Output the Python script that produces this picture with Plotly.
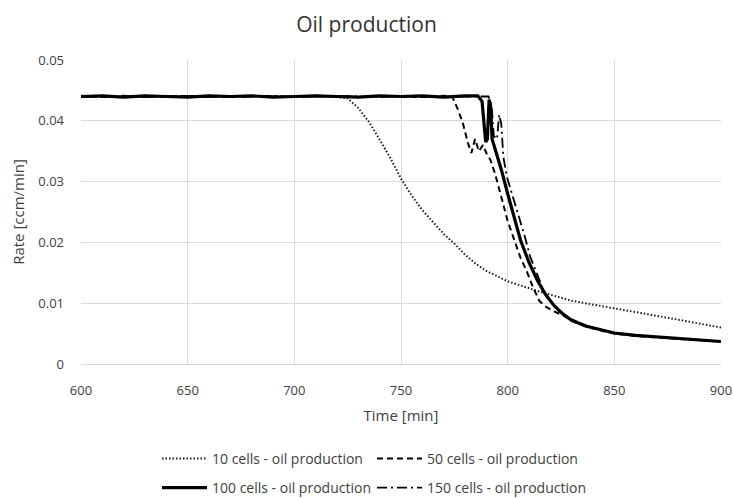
import plotly.graph_objects as go

# ---- data ----
flat_t = [600, 610, 620, 630, 640, 650, 660, 670, 680, 690, 700, 710, 720]

t10 = flat_t + [725, 730, 735, 740, 745, 750, 755, 760, 765, 770, 775, 780, 785, 790,
                800, 815, 830, 850, 875, 900]
v10 = [0.0440, 0.0441, 0.0439, 0.0440, 0.0441, 0.0440, 0.0439, 0.0440, 0.0441, 0.0440,
       0.0440, 0.0441, 0.0439,
       0.0437, 0.0421, 0.0398, 0.0369, 0.0339, 0.0305, 0.0277, 0.0253, 0.0233, 0.0214,
       0.0198, 0.0180, 0.0165, 0.0153, 0.0136, 0.0119, 0.0104, 0.0092, 0.0076, 0.0060]

t50 = flat_t + [730, 740, 750, 760, 770, 774, 776.5, 779, 781.4, 783, 784.7, 786.5, 788.4,
                790, 792, 794, 797, 800, 803, 806, 809, 812, 815, 818, 822, 826, 830, 837,
                845, 850, 860, 875, 890, 900]
v50 = [0.0441, 0.0439, 0.0441, 0.0440, 0.0439, 0.0441, 0.0440, 0.0439, 0.0441, 0.0440,
       0.0439, 0.0441, 0.0440,
       0.0439, 0.0441, 0.0440, 0.0439, 0.0441, 0.0440, 0.0420, 0.0396, 0.0363, 0.0347,
       0.0370, 0.0350, 0.0360, 0.0347, 0.0335, 0.0314, 0.0275, 0.0235, 0.0205, 0.0175,
       0.0152, 0.0125, 0.0103, 0.0094, 0.0086, 0.0080, 0.0071, 0.0061, 0.0054, 0.0050,
       0.0046, 0.0042, 0.0039, 0.0037]

t100 = flat_t + [730, 740, 750, 760, 770, 780, 786, 788, 789, 789.7, 790.5, 791.3, 792,
                 792.7, 794, 797, 800, 803, 806, 810, 814, 818, 822, 826, 830, 837, 845,
                 850, 860, 875, 890, 900]
v100 = [0.0440, 0.0441, 0.0439, 0.0441, 0.0440, 0.0439, 0.0441, 0.0440, 0.0441, 0.0439,
        0.0440, 0.0441, 0.0440,
        0.0439, 0.0441, 0.0440, 0.0441, 0.0439, 0.0441, 0.0441, 0.0432, 0.0390, 0.0365,
        0.0370, 0.0435, 0.0425, 0.0370, 0.0355, 0.0320, 0.0280, 0.0242, 0.0204, 0.0167,
        0.0137, 0.0113, 0.0095, 0.0082, 0.0072, 0.0062, 0.0055, 0.0051, 0.0047, 0.0043,
        0.0039, 0.0037]

t150 = flat_t + [730, 740, 750, 760, 770, 780, 791, 792.5, 793.5, 795, 796, 797, 798,
                 799.7, 802.5, 805.8, 808, 810.5, 813.7, 816.6, 820, 824, 828, 835, 845,
                 850, 860, 875, 890, 900]
v150 = [0.0439, 0.0440, 0.0441, 0.0439, 0.0440, 0.0441, 0.0440, 0.0439, 0.0440, 0.0441,
        0.0439, 0.0440, 0.0441,
        0.0440, 0.0439, 0.0441, 0.0440, 0.0439, 0.0440, 0.0440, 0.0425, 0.0375, 0.0370,
        0.0410, 0.0395, 0.0340, 0.0307, 0.0275, 0.0237, 0.0210, 0.0177, 0.0150, 0.0123,
        0.0103, 0.0088, 0.0077, 0.0065, 0.0055, 0.0051, 0.0047, 0.0043, 0.0039, 0.0037]

names = ["10 cells - oil production", "50 cells - oil production",
         "100 cells - oil production", "150 cells - oil production"]

x_ticks = [600, 650, 700, 750, 800, 850, 900]
y_ticks = [0, 0.01, 0.02, 0.03, 0.04, 0.05]
y_tick_text = ["0", "0.01", "0.02", "0.03", "0.04", "0.05"]

FONT = "Open Sans"
TXT = "#404040"

fig = go.Figure()
series = [
    (t10, v10, dict(color="#1a1a1a", width=2, dash="1.5px,2px"), "legend"),
    (t50, v50, dict(color="#000000", width=2, dash="6px,4px"), "legend"),
    (t100, v100, dict(color="#000000", width=3.2), "legend2"),
    (t150, v150, dict(color="#000000", width=1.8, dash="10px,4px,2px,4px"), "legend2"),
]
for (t, v, ln, lg), nm in zip(series, names):
    fig.add_trace(go.Scatter(x=t, y=v, mode="lines", name=nm, line=ln, legend=lg))

leg_common = dict(orientation="h", xref="container", yref="container",
                  xanchor="left", yanchor="middle", entrywidth=155,
                  entrywidthmode="pixels", itemwidth=45,
                  font=dict(family=FONT, size=14, color=TXT),
                  bgcolor="rgba(0,0,0,0)")

fig.update_layout(
    width=733, height=498,
    margin=dict(l=81, r=12, t=60, b=134, autoexpand=False),
    paper_bgcolor="white", plot_bgcolor="white",
    font=dict(family=FONT, size=13, color=TXT),
    title=dict(text="Oil production", x=0.5, xanchor="center", y=0.95, yanchor="middle",
               font=dict(family=FONT, size=21, color="#333333"), automargin=False),
    showlegend=True,
    legend=dict(x=157 / 733, y=1 - 459 / 498, **leg_common),
    legend2=dict(x=157 / 733, y=1 - 488 / 498, **leg_common),
)
fig.update_xaxes(
    range=[600, 900], tickvals=x_ticks, showgrid=True, gridcolor="#d9d9d9", gridwidth=1,
    zeroline=False, showline=True, linecolor="#d9d9d9", linewidth=1, ticks="",
    automargin=False, ticklabelstandoff=14, ticklabeloverflow="allow",
    title=dict(text="Time [min]", font=dict(family=FONT, size=15, color=TXT), standoff=12),
    tickfont=dict(family=FONT, size=13, color=TXT),
)
fig.update_yaxes(
    range=[0, 0.05], tickvals=y_ticks, ticktext=y_tick_text, showgrid=True,
    gridcolor="#d9d9d9", gridwidth=1, zeroline=False, showline=False, ticks="",
    automargin=False, ticklabelstandoff=16, ticklabeloverflow="allow",
    title=dict(text="Rate [ccm/min]", font=dict(family=FONT, size=15, color=TXT), standoff=10),
    tickfont=dict(family=FONT, size=13, color=TXT),
)

fig.write_html("out.html")
